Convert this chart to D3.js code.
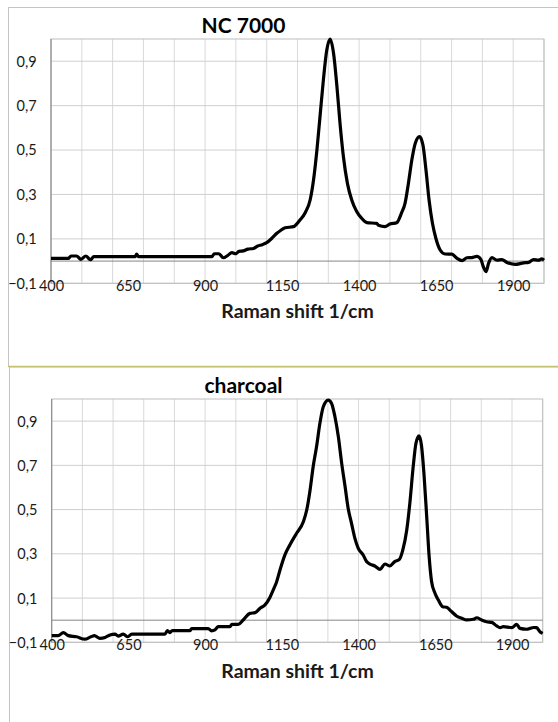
<!DOCTYPE html>
<html>
<head>
<meta charset="utf-8">
<script src="https://cdn.jsdelivr.net/npm/d3@7/dist/d3.min.js"></script>
<style>
  html, body { margin: 0; padding: 0; background: #fff; }
  svg { display: block; font-family: Lato, "Open Sans", sans-serif; }
</style>
</head>
<body>
<svg id="chart" width="558" height="722"></svg>
<script>
(function () {
  // axis ticks
  var xTicks = [400, 650, 900, 1150, 1400, 1650, 1900];
  var xGrid = [400, 500, 600, 700, 800, 900, 1000, 1100, 1200, 1300, 1400, 1500, 1600, 1700, 1800, 1900, 2000];
  var yTicks = [-0.1, 0.1, 0.3, 0.5, 0.7, 0.9];

  // NC 7000 spectrum
  var ncShift = [400, 456, 465, 483, 497, 513, 528, 539, 673, 678, 684, 922, 930, 945, 959, 974, 987, 1000, 1010, 1024,
    1039, 1057, 1071, 1086, 1100, 1117, 1133, 1145, 1160, 1187, 1208, 1225, 1241, 1252, 1263, 1273, 1284, 1295, 1306, 1317,
    1328, 1338, 1349, 1362, 1376, 1392, 1408, 1425, 1457, 1463, 1484, 1500, 1522, 1538, 1549, 1560, 1571, 1582, 1596, 1607,
    1617, 1627, 1638, 1649, 1663, 1679, 1701, 1717, 1734, 1750, 1766, 1782, 1795, 1803, 1812, 1820, 1831, 1847, 1863, 1880,
    1906, 1934, 1950, 1966, 1982, 1993, 2000];
  var ncIntensity = [0.012, 0.012, 0.023, 0.023, 0.008, 0.023, 0.006, 0.02, 0.02, 0.031, 0.02, 0.02, 0.033, 0.033, 0.015, 0.026, 0.038, 0.033, 0.044, 0.046,
    0.054, 0.057, 0.068, 0.074, 0.083, 0.103, 0.125, 0.138, 0.15, 0.155, 0.185, 0.218, 0.275, 0.365, 0.50, 0.65, 0.816, 0.95, 1.0, 0.936,
    0.786, 0.62, 0.47, 0.35, 0.275, 0.223, 0.193, 0.173, 0.17, 0.161, 0.155, 0.167, 0.173, 0.218, 0.26, 0.35, 0.455, 0.53, 0.56, 0.523,
    0.41, 0.275, 0.17, 0.103, 0.05, 0.032, 0.031, 0.013, 0.002, 0.015, 0.016, 0.021, 0.008, -0.025, -0.047, -0.01, 0.016, 0.004, 0.007, -0.006,
    -0.015, -0.008, -0.006, 0.007, 0.004, 0.01, 0.004];

  // charcoal spectrum
  var charcoalShift = [400, 421, 438, 454, 481, 508, 528, 539, 557, 574, 590, 606, 617, 633, 648, 661, 769, 777, 785, 793,
    851, 856, 910, 921, 932, 943, 981, 987, 1008, 1024, 1046, 1063, 1079, 1095, 1111, 1122, 1133, 1144, 1160, 1176,
    1198, 1220, 1231, 1242, 1252, 1263, 1274, 1285, 1301, 1312, 1323, 1334, 1345, 1356, 1366, 1377, 1388, 1399, 1415, 1426,
    1437, 1453, 1470, 1486, 1502, 1518, 1533, 1544, 1557, 1567, 1578, 1587, 1597, 1605, 1613, 1622, 1630, 1638, 1649, 1660,
    1674, 1687, 1703, 1719, 1736, 1752, 1774, 1785, 1801, 1817, 1834, 1850, 1861, 1872, 1899, 1915, 1926, 1948, 1959, 1970,
    1980, 1991, 2000];
  var charcoalIntensity = [-0.07, -0.07, -0.056, -0.07, -0.075, -0.086, -0.075, -0.07, -0.082, -0.078, -0.067, -0.063, -0.072, -0.063, -0.075, -0.063, -0.063, -0.047, -0.056, -0.047,
    -0.047, -0.038, -0.038, -0.048, -0.044, -0.029, -0.029, -0.019, -0.019, 0.001, 0.031, 0.034, 0.054, 0.069, 0.103, 0.137, 0.174, 0.227, 0.295, 0.34,
    0.393, 0.445, 0.498, 0.589, 0.694, 0.784, 0.89, 0.965, 0.995, 0.98, 0.92, 0.83, 0.709, 0.604, 0.506, 0.438, 0.37, 0.325, 0.295, 0.265,
    0.254, 0.245, 0.23, 0.254, 0.245, 0.265, 0.275, 0.317, 0.408, 0.528, 0.694, 0.80, 0.833, 0.79, 0.664, 0.468, 0.287, 0.174, 0.122, 0.091,
    0.061, 0.058, 0.039, 0.019, 0.009, 0.001, 0.004, 0.011, 0.001, -0.007, -0.01, -0.026, -0.034, -0.029, -0.034, -0.019, -0.037, -0.041, -0.037, -0.033,
    -0.034, -0.052, -0.06];

  var svg = d3.select("#chart");
  var fmt = function(d) { return d3.format(".1f")(d).replace(".", ","); };

  // chart area frames
  svg.append("rect")
    .attr("x", 8.5).attr("y", 7.5).attr("width", 560).attr("height", 359)
    .attr("fill", "#fff").attr("stroke", "#c4c4c4");
  svg.append("rect")
    .attr("x", 9.5).attr("y", 367).attr("width", 560).attr("height", 400)
    .attr("fill", "#fff").attr("stroke", "#c4c4c4");
  svg.append("line")
    .attr("x1", 8).attr("x2", 558).attr("y1", 366.5).attr("y2", 366.5)
    .attr("stroke", "#c2c270").attr("stroke-width", 1.5);

  drawPanel({
    title: "NC 7000", shift: ncShift, intensity: ncIntensity,
    left: 51, right: 544, top: 39, bottom: 283.3,
    titleY: 33, axisTitleY: 318.3
  });
  drawPanel({
    title: "charcoal", shift: charcoalShift, intensity: charcoalIntensity,
    left: 51.7, right: 542.7, top: 399, bottom: 642.3,
    titleY: 392.7, axisTitleY: 677.7
  });

  function drawPanel(p) {
    var x = d3.scaleLinear().domain([400, 2000]).range([p.left, p.right]);
    var y = d3.scaleLinear().domain([-0.1, 1.0]).range([p.bottom, p.top]);
    var g = svg.append("g");

    g.selectAll(".vgrid")
      .data(xGrid)
      .enter().append("line")
        .attr("x1", function(d) { return x(d); })
        .attr("x2", function(d) { return x(d); })
        .attr("y1", p.top).attr("y2", p.bottom)
        .attr("stroke", "#d9d9d9");

    g.selectAll(".hgrid")
      .data(yTicks)
      .enter().append("line")
        .attr("x1", p.left).attr("x2", p.right)
        .attr("y1", function(d) { return y(d); })
        .attr("y2", function(d) { return y(d); })
        .attr("stroke", "#cfcfcf");

    // plot border
    g.append("rect")
      .attr("x", p.left).attr("y", p.top)
      .attr("width", p.right - p.left).attr("height", p.bottom - p.top)
      .attr("fill", "none").attr("stroke", "#bdbdbd");

    // axis lines
    g.append("line")
      .attr("x1", p.left).attr("x2", p.right)
      .attr("y1", y(0)).attr("y2", y(0))
      .attr("stroke", "#868686");
    g.append("line")
      .attr("x1", p.left).attr("x2", p.left)
      .attr("y1", p.top).attr("y2", p.bottom)
      .attr("stroke", "#868686");

    var xaxis = d3.axisBottom(x).tickValues(xTicks).tickSize(0).tickFormat(d3.format("d"));
    var xg = g.append("g")
      .attr("transform", "translate(0," + p.bottom + ")")
      .call(xaxis);
    xg.select(".domain").remove();
    xg.selectAll("text")
      .attr("y", 7.2).attr("dy", null)
      .style("font-family", "Lato, sans-serif")
      .style("font-size", "14.5px")
      .attr("fill", "#1a1a1a");

    var yaxis = d3.axisLeft(y).tickValues(yTicks).tickSize(0).tickFormat(fmt);
    var yg = g.append("g")
      .attr("transform", "translate(" + (p.left - 14.3) + ",0)")
      .call(yaxis);
    yg.select(".domain").remove();
    yg.selectAll("text")
      .attr("x", 0).attr("dy", "0.34em")
      .style("font-family", "Lato, sans-serif")
      .style("font-size", "14.5px")
      .attr("fill", "#1a1a1a");

    var line = d3.line()
      .x(function(d, i) { return x(p.shift[i]); })
      .y(function(d) { return y(d); })
      .curve(d3.curveMonotoneX);

    g.append("path")
      .datum(p.intensity)
      .attr("d", line)
      .attr("fill", "none")
      .attr("stroke", "#000")
      .attr("stroke-width", 3.2)
      .attr("stroke-linejoin", "round");

    g.append("text")
      .attr("x", 243.5).attr("y", p.titleY)
      .attr("text-anchor", "middle")
      .style("font-weight", "bold")
      .style("font-size", "21px")
      .text(p.title);

    g.append("text")
      .attr("x", 297.5).attr("y", p.axisTitleY)
      .attr("text-anchor", "middle")
      .style("font-weight", "bold")
      .style("font-size", "19.5px")
      .attr("fill", "#1a1a1a")
      .text("Raman shift 1/cm");
  }
})();
</script>
</body>
</html>
